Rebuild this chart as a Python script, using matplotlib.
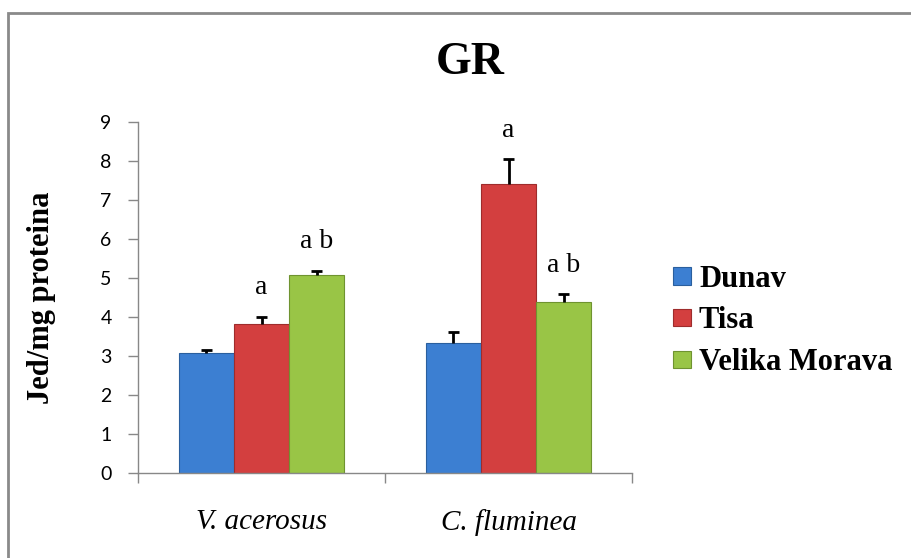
import matplotlib
matplotlib.use("Agg")
import matplotlib.pyplot as plt
import matplotlib.patches as mpatches
import numpy as np

species = ["V. acerosus", "C. fluminea"]
rivers = ["Dunav", "Tisa", "Velika Morava"]
dunav = [3.07, 3.33]
tisa = [3.83, 7.41]
morava = [5.08, 4.39]
dunav_err = [0.09, 0.29]
tisa_err = [0.18, 0.64]
morava_err = [0.11, 0.20]
# significance letters above bars ("" = none)
dunav_sig = ["", ""]
tisa_sig = ["a", "a"]
morava_sig = ["a b", "a b"]

colors = ["#3c7fd2", "#d33f3f", "#99c546"]
edges = ["#2a5f9e", "#9e2c2c", "#6f9330"]

serif = "Liberation Serif"

fig = plt.figure(figsize=(9.11, 5.58), dpi=100)
ax = fig.add_axes([138/911, 1-473/558, (632-138)/911, (473-122)/558])

x = np.arange(len(species))
w = 0.223
cap = 0.022
series = [(dunav, dunav_err, dunav_sig), (tisa, tisa_err, tisa_sig), (morava, morava_err, morava_sig)]
for i, (vals, errs, sig) in enumerate(series):
    pos = x + (i - 1) * w
    vals = np.array(vals)
    errs = np.array(errs)
    ax.bar(pos, vals, width=w, color=colors[i], edgecolor=edges[i], linewidth=0.8,
           label=rivers[i], zorder=2)
    # upper error bars only
    ax.vlines(pos, vals, vals + errs, color="black", linewidth=2, zorder=3)
    ax.hlines(vals + errs, pos - cap, pos + cap, color="black", linewidth=2, zorder=3)
    for p, v, e, s in zip(pos, vals, errs, sig):
        if s:
            ax.text(p, v + e + 0.42, s, ha="center", va="bottom",
                    fontsize=20, family=serif)

ax.set_ylim(0, 9)
ax.set_yticks(range(0, 10))
ax.set_xlim(-0.5, 1.5)
ax.set_xticks(x)
ax.set_xticklabels(species, fontsize=21, family=serif, style="italic")
ax.set_xticks([-0.5, 0.5, 1.5], minor=True)
ax.tick_params(axis="x", which="major", length=0, pad=26)
ax.tick_params(axis="x", which="minor", length=7, color="#888888", width=1)
ax.tick_params(axis="y", length=7, color="#888888", width=1, labelsize=14, pad=12)
for lab in ax.get_yticklabels():
    lab.set_family("Lato")
for s in ["top", "right"]:
    ax.spines[s].set_visible(False)
for s in ["left", "bottom"]:
    ax.spines[s].set_color("#888888")
    ax.spines[s].set_linewidth(1)

ax.set_ylabel("Jed/mg proteina", fontsize=22, family=serif, fontweight="bold", labelpad=32)

fig.text(470/911, 1-63/558, "GR", ha="center", va="center", fontsize=33,
         family=serif, fontweight="bold")

fig.legend(loc="center left", bbox_to_anchor=(673/911, 1-321/558), frameon=False,
           prop={"family": serif, "weight": "bold", "size": 22},
           handlelength=0.6, handleheight=0.5, handletextpad=0.25,
           labelspacing=0.42, borderpad=0, borderaxespad=0)

fig.patches.append(mpatches.Rectangle((8/911, -0.2), 1.5, 0.2 + 1 - 13/558,
                                      transform=fig.transFigure, fill=False,
                                      edgecolor="#8a8a8a", linewidth=2))

fig.savefig("out.png", dpi=100)
